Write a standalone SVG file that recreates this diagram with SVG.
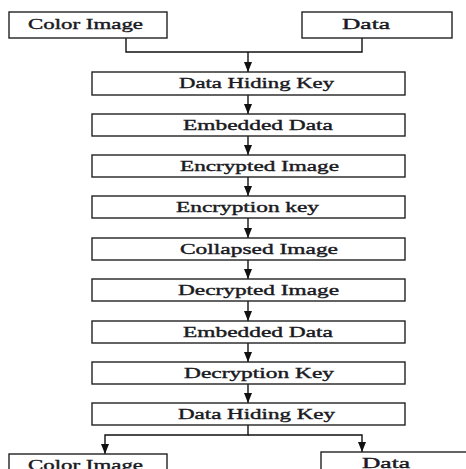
<svg xmlns="http://www.w3.org/2000/svg" width="466" height="469" viewBox="0 0 466 469">
<style>
.box{fill:#fff;stroke:#222;stroke-width:1.4}
.t{font-family:"Liberation Serif","Times New Roman",serif;font-size:15px;fill:#1a1a22;stroke:#1a1a22;stroke-width:0.4}
.c{fill:none;stroke:#111;stroke-width:1.4}
</style>
<defs>
<marker id="ah" viewBox="0 0 10 8" refX="10" refY="4" markerWidth="10" markerHeight="8" markerUnits="userSpaceOnUse" orient="auto">
<path d="M0,0 L10,4 L0,8 Z" fill="#111"/>
</marker>
</defs>
<rect width="466" height="469" fill="#fff"/>
<g id="connectors">
<path class="c" d="M126,38 V52 H362 V38"/>
<path class="c" d="M248,52 V72" marker-end="url(#ah)"/>
<path class="c" d="M248,95 V114" marker-end="url(#ah)"/>
<path class="c" d="M248,136 V155" marker-end="url(#ah)"/>
<path class="c" d="M248,177 V196" marker-end="url(#ah)"/>
<path class="c" d="M248,218 V238" marker-end="url(#ah)"/>
<path class="c" d="M248,260 V279" marker-end="url(#ah)"/>
<path class="c" d="M248,301 V321" marker-end="url(#ah)"/>
<path class="c" d="M248,343 V362" marker-end="url(#ah)"/>
<path class="c" d="M248,384 V403" marker-end="url(#ah)"/>
<path class="c" d="M248,425 V435 H105 V454" marker-end="url(#ah)"/>
<path class="c" d="M248,435 H362 V452" marker-end="url(#ah)"/>
</g>
<g id="n-color-top"><rect class="box" x="9" y="12" width="158" height="26"/><text class="t" x="28" y="29" textLength="115" lengthAdjust="spacingAndGlyphs">Color Image</text></g>
<g id="n-data-top"><rect class="box" x="302" y="12" width="150" height="26"/><text class="t" x="342" y="29" textLength="48" lengthAdjust="spacingAndGlyphs">Data</text></g>
<g id="n1"><rect class="box" x="92" y="72" width="313" height="23"/><text class="t" x="179" y="88" textLength="155" lengthAdjust="spacingAndGlyphs">Data Hiding Key</text></g>
<g id="n2"><rect class="box" x="92" y="114" width="313" height="22"/><text class="t" x="183" y="129.5" textLength="150" lengthAdjust="spacingAndGlyphs">Embedded Data</text></g>
<g id="n3"><rect class="box" x="92" y="155" width="313" height="22"/><text class="t" x="180" y="170.5" textLength="159" lengthAdjust="spacingAndGlyphs">Encrypted Image</text></g>
<g id="n4"><rect class="box" x="92" y="196" width="313" height="22"/><text class="t" x="176" y="211.5" textLength="143" lengthAdjust="spacingAndGlyphs">Encryption key</text></g>
<g id="n5"><rect class="box" x="92" y="238" width="313" height="22"/><text class="t" x="180" y="253.5" textLength="158" lengthAdjust="spacingAndGlyphs">Collapsed Image</text></g>
<g id="n6"><rect class="box" x="92" y="279" width="313" height="22"/><text class="t" x="178" y="294.5" textLength="161" lengthAdjust="spacingAndGlyphs">Decrypted Image</text></g>
<g id="n7"><rect class="box" x="92" y="321" width="313" height="22"/><text class="t" x="183" y="336.5" textLength="150" lengthAdjust="spacingAndGlyphs">Embedded Data</text></g>
<g id="n8"><rect class="box" x="92" y="362" width="313" height="22"/><text class="t" x="184" y="377.5" textLength="150" lengthAdjust="spacingAndGlyphs">Decryption Key</text></g>
<g id="n9"><rect class="box" x="92" y="403" width="313" height="22"/><text class="t" x="178" y="418.5" textLength="157" lengthAdjust="spacingAndGlyphs">Data Hiding Key</text></g>
<g id="n-color-bottom"><rect class="box" x="9" y="454" width="158" height="30"/><text class="t" x="28" y="470" textLength="115" lengthAdjust="spacingAndGlyphs">Color Image</text></g>
<g id="n-data-bottom"><rect class="box" x="321" y="452" width="160" height="30"/><text class="t" x="362" y="468" textLength="48" lengthAdjust="spacingAndGlyphs">Data</text></g>
</svg>
